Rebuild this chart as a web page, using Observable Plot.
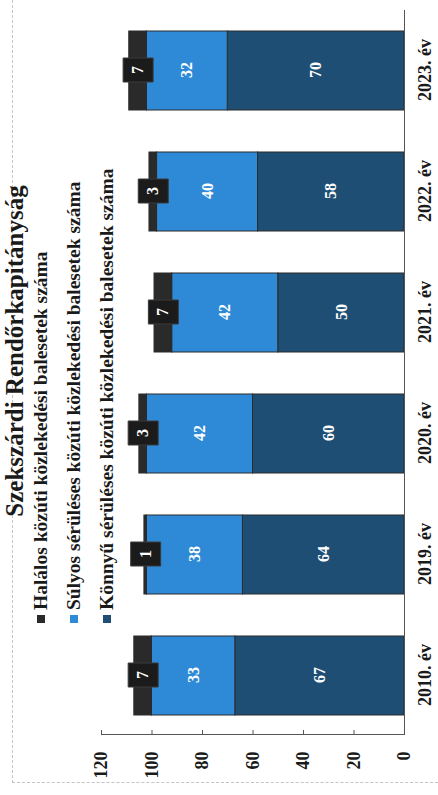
<!DOCTYPE html>
<html>
<head>
<meta charset="utf-8">
<script src="https://cdn.jsdelivr.net/npm/d3@7"></script>
<script src="https://cdn.jsdelivr.net/npm/@observablehq/plot@0.6"></script>
<style>
  html, body { margin: 0; padding: 0; background: #fff; overflow: hidden; }
  body { width: 438px; height: 795px; position: relative; }
  #wrap {
    position: absolute; left: 0; top: 0; width: 795px; height: 438px;
    transform-origin: 0 0; transform: translate(0px, 795px) rotate(-90deg);
    font-family: "Liberation Serif", "Times New Roman", serif; font-weight: bold; color: #1a1a1a;
  }
  #border { position: absolute; left: 12px; top: 12px; right: -5px; bottom: -5px;
    border-left: 1px dashed #c4c4c4; border-top: 1px dashed #c4c4c4; }
  #title { position: absolute; left: 144px; width: 600px; top: 2px; text-align: center;
    font-size: 25px; line-height: 25px; white-space: nowrap; }
  .leg { position: absolute; left: 172px; font-size: 19.5px; line-height: 19.5px; white-space: nowrap; }
  .leg span.sw { display: inline-block; width: 8px; height: 8px; margin-right: 5px; vertical-align: 2px; }
  #chart { position: absolute; left: 0; top: 0; }
</style>
</head>
<body>
<div id="wrap">
  <div id="border"></div>
  <div id="title"></div>
  <div id="legend"></div>
  <div id="chart"></div>
</div>
<script>
const title = "Szekszárdi Rendőrkapitányság";
const years = ["2010. év", "2019. év", "2020. év", "2021. év", "2022. év", "2023. év"];
const seriesNames = [
  "Halálos közúti közlekedési balesetek száma",
  "Súlyos sérüléses közúti közlekedési balesetek száma",
  "Könnyű sérüléses közúti közlekedési balesetek száma"
];
const halalos = [7, 1, 3, 7, 3, 7];
const sulyos = [33, 38, 42, 42, 40, 32];
const konnyu = [67, 64, 60, 50, 58, 70];
const yTicks = [0, 20, 40, 60, 80, 100, 120];
const colors = ["#2a2a2a", "#2e8ad6", "#1e4e74"];

// long table, bottom of stack first
const data = [];
years.forEach((y, i) => {
  data.push({year: y, series: seriesNames[2], value: konnyu[i]});
  data.push({year: y, series: seriesNames[1], value: sulyos[i]});
  data.push({year: y, series: seriesNames[0], value: halalos[i]});
});
const halData = years.map((y, i) => ({year: y, mid: konnyu[i] + sulyos[i] + halalos[i] / 2}));

const rectSymbol = { draw(ctx) { ctx.moveTo(-12, -15); ctx.lineTo(12, -15); ctx.lineTo(12, 15); ctx.lineTo(-12, 15); ctx.closePath(); } };

document.getElementById("title").textContent = title;
const legend = document.getElementById("legend");
const baseTops = [30.5, 63.5, 96.5];
seriesNames.forEach((s, i) => {
  const d = document.createElement("div");
  d.className = "leg";
  d.style.top = baseTops[i] + "px";
  const sw = document.createElement("span");
  sw.className = "sw";
  sw.style.background = colors[i];
  d.appendChild(sw);
  d.appendChild(document.createTextNode(s));
  legend.appendChild(d);
});

const chart = Plot.plot({
  width: 795,
  height: 438,
  marginLeft: 60,
  marginRight: 10,
  marginTop: 101,
  marginBottom: 34,
  style: {fontFamily: "'Liberation Serif', 'Times New Roman', serif", fontWeight: "bold", background: "transparent", color: "#1a1a1a"},
  x: {domain: years, paddingInner: 0.343, paddingOuter: 0.148, label: null},
  y: {domain: [0, 120], label: null},
  color: {domain: seriesNames, range: colors},
  marks: [
    Plot.frame({anchor: "left", stroke: "#555"}),
    Plot.barY(data, {x: "year", y: "value", fill: "series", stroke: "#2b2b2b", strokeWidth: 1}),
    Plot.ruleY([0], {stroke: "#555"}),
    Plot.dot(halData, {x: "year", y: "mid", symbol: rectSymbol, fill: "#1b1b1b", stroke: "#3a3a3a", strokeWidth: 1}),
    Plot.text(data, Plot.stackY({x: "year", y: "value", z: "series", text: "value", fill: "white", fontSize: 16, fontWeight: "bold"})),
    Plot.axisY({ticks: yTicks, tickSize: -5, tickPadding: 22, fontSize: 18, stroke: "#555"}),
    Plot.axisX({tickSize: 0, tickPadding: 14, fontSize: 18})
  ]
});
document.getElementById("chart").appendChild(chart);
</script>
</body>
</html>
